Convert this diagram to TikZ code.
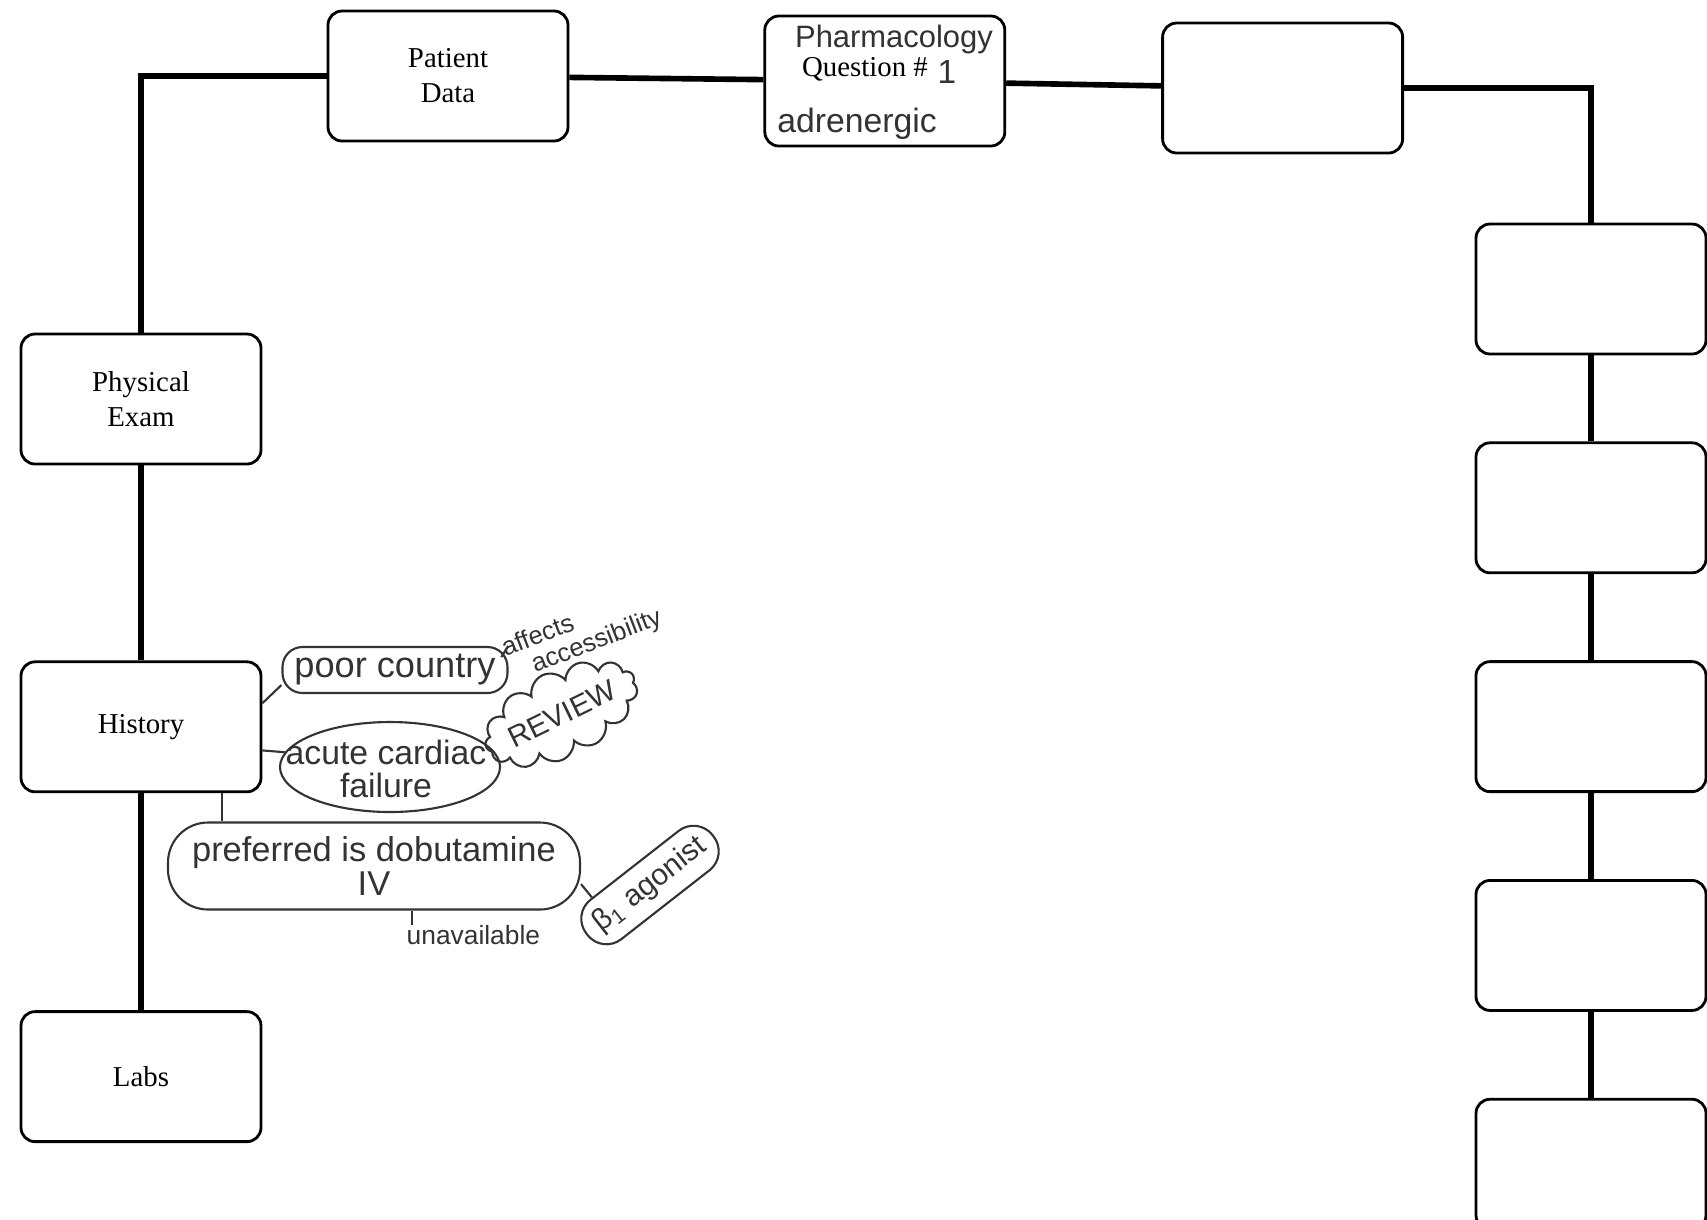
\documentclass[tikz,border=0pt]{standalone}
\usepackage{fontspec}
\setmainfont{Liberation Serif}
\newfontfamily\handfont{Liberation Sans}
\usetikzlibrary{positioning, shapes.geometric, shapes.symbols}

\begin{document}
\begin{tikzpicture}[
  x=0.1mm, y=-0.1mm,
  box/.style={rectangle, draw, rounded corners=1.4mm, line width=0.8pt, align=center, minimum width=24mm, minimum height=13mm, inner sep=0pt, font=\fontsize{8.2}{10}\selectfont},
  link/.style={line width=1.6pt},
  hand/.style={font=\handfont\fontsize{#1}{#1}\selectfont, text=black!80, align=center, inner sep=1pt},
  hand/.default=9.5,
  pencil/.style={draw=black!80, line width=0.6pt},
  bubble/.style={pencil, rectangle, rounded corners=2mm, inner sep=0pt},
  oval/.style={pencil, ellipse, inner sep=0pt}
]
\useasboundingbox[fill=white] (0,0) rectangle (1707,1219);

% template boxes
\node[box] (pd) at (448,76) {Patient\\Data};
\node[box, right=19.4mm of pd, yshift=-0.5mm] (q) {};
\node[box, right=15.5mm of q, yshift=-0.7mm] (blank) {};
\node[box] (pe) at (141,399) {Physical\\Exam};
\node[box, below=19.5mm of pe] (hist) {History};
\node[box, below=21.7mm of hist] (labs) {Labs};
\node[box, minimum width=23mm] (r1) at (1591,289) {};
\node[box, minimum width=23mm, below=8.6mm of r1] (r2) {};
\node[box, minimum width=23mm, below=8.6mm of r2] (r3) {};
\node[box, minimum width=23mm, below=8.6mm of r3] (r4) {};
\node[box, minimum width=23mm, below=8.6mm of r4] (r5) {};

\draw[link] (pd) -| (pe);
\draw[link] (pd) -- (q);
\draw[link] (q) -- (blank);
\draw[link] (blank) -| (r1);
\draw[link] (pe) -- (hist);
\draw[link] (hist) -- (labs);
\draw[link] (r1) -- (r2);
\draw[link] (r2) -- (r3);
\draw[link] (r3) -- (r4);
\draw[link] (r4) -- (r5);

% question box
\node[hand=8.8, anchor=base] (pharm) at (894,47) {Pharmacology};
\node[font=\fontsize{8.2}{10}\selectfont, inner sep=0pt, anchor=base] (qtxt) at (865,76) {Question \#};
\node[hand, anchor=base] (qnum) at (947,83) {1};
\node[hand=9.6, anchor=base] (adr) at (857,132) {adrenergic};

% notes on history
\node[bubble, hand=10.3, minimum width=22.5mm, minimum height=4.6mm] (poor) at (395,670) {poor country};
\node[hand=7.3, rotate=21, align=left] (aff) at (582,634) {affects\\\hspace*{2.2mm}accessibility};
\node[oval, minimum width=22mm, minimum height=9mm] (acute) at (390,767) {};
\node[hand=9.6] (acutetxt) at (386,769) {acute cardiac\\failure};
\node[pencil, cloud, cloud puffs=13, cloud ignores aspect, rotate=26, minimum width=16.4mm, minimum height=8.6mm, inner sep=0pt] (review) at (561,714) {};
\node[hand=8.4, rotate=26] (reviewtxt) at (562,714) {REVIEW};
\node[bubble, hand=9.8, rounded corners=4mm, minimum width=41.2mm, minimum height=8.7mm] (pref) at (374,866) {preferred is dobutamine\\IV};
\node[bubble, hand=8.5, rotate=38, rounded corners=2.4mm, minimum width=16mm, minimum height=5mm] (beta) at (650,885) {β\textsubscript{1} agonist};
\node[hand=7.5, inner sep=0pt, below right=1.4mm and 3.2mm of pref.south] (unav) {unavailable};

\coordinate[xshift=8.1mm] (hdrop) at (hist.south);
\coordinate[xshift=0.6mm] (untick) at (unav.north west);

\draw[pencil] (hist.11) -- ([yshift=-1.5mm]poor.west);
\draw[pencil] (poor.12) -- (aff.175);
\draw[pencil] (hist.-11) -- (acute.172);
\draw[pencil] (hdrop) -- (hdrop |- pref.north);
\draw[pencil] (pref.-5) -- (beta.154);
\draw[pencil] (untick |- pref.south) -- (untick);
\end{tikzpicture}
\end{document}
